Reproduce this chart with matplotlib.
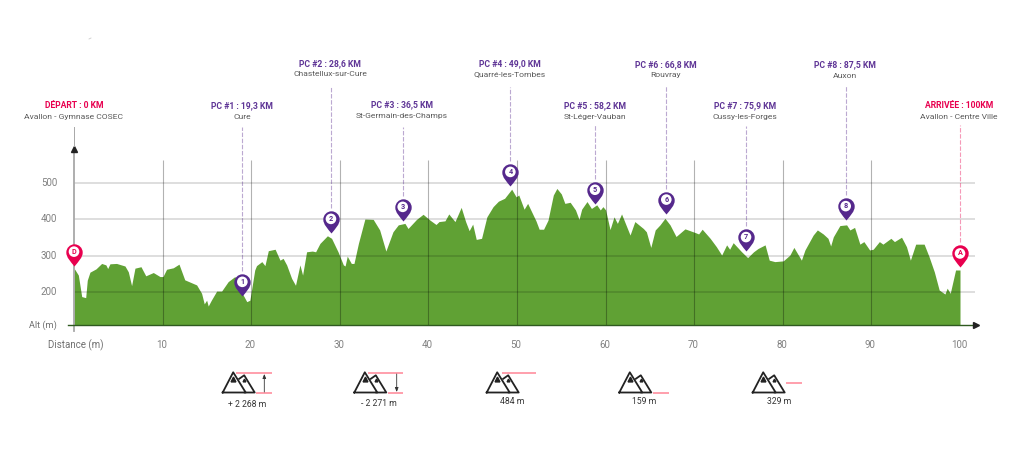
import matplotlib.pyplot as plt
from matplotlib.path import Path

# profile
km = [0.08, 0.49, 0.87, 1.32, 1.5, 1.8, 2.48, 3.12, 3.6, 3.8, 4.06, 4.8, 5.75, 6.13, 6.5, 6.88, 7.56, 8.1, 8.95, 9.7,
      10.04, 10.45, 11.2, 11.85, 12.5, 13.84, 14.4, 14.7, 14.97, 15.15, 15.5, 16.1, 16.66, 17.4, 18.16, 19.1, 19.5, 19.85,
      20.4, 20.6, 21.2, 21.55, 21.93, 22.7, 23.25, 23.6, 24, 24.56, 25, 25.5, 25.8, 26.25, 26.9, 27.27, 27.76,
      28.6, 29.07, 29.8, 30.4, 30.6, 30.84, 31.3, 31.6, 32.1, 32.83, 33.77, 34.5, 35.2, 36, 36.6, 37.35, 37.7,
      38.66, 39.4, 40.18, 40.86, 41.2, 41.87, 42.3, 43, 43.7, 44.2, 44.6, 45, 45.4, 46, 46.6, 47.3, 47.9, 48.6,
      49.4, 49.9, 50.2, 50.8, 51.2, 52.14, 52.5, 53, 53.5, 54.1, 54.5, 55, 55.4, 56, 56.6, 57, 57.3, 57.9, 58.4,
      59, 59.4, 59.7, 60, 60.5, 60.95, 61.33, 61.8, 62.76, 63.3, 64.26, 64.6, 65.1, 65.6, 66.14, 66.7, 67.27,
      67.95, 68.96, 70.1, 70.5, 70.9, 71.8, 72.5, 73.1, 73.66, 74, 74.4, 75.35, 76.03, 76.7, 77.2, 78, 78.47,
      79.1, 80.05, 80.8, 81.25, 82.1, 82.5, 83.43, 83.9, 84.56, 85.1, 85.4, 85.7, 86.44, 87.2, 87.57, 88.1,
      88.7, 89.15, 89.8, 90.2, 90.9, 91.3, 92.2, 92.6, 93.4, 93.96, 94.4, 95, 95.95, 96.5, 97.1, 97.65, 98.3,
      98.55, 98.9, 99.5, 100]
alt = [263, 247, 188, 185, 233, 255, 264, 279, 275, 265, 278, 279, 272, 256, 218, 266, 270, 245, 254, 243,
       243, 263, 267, 277, 234, 220, 197, 168, 178, 162, 178, 203, 203, 229, 243, 192, 174, 178,
       261, 273, 284, 273, 314, 318, 288, 293, 275, 238, 219, 275, 247, 311, 313, 311, 334,
       355, 348, 311, 275, 272, 299, 279, 279, 334, 401, 400, 371, 313, 366, 385, 389, 375,
       400, 414, 398, 386, 394, 396, 415, 394, 433, 394, 369, 387, 345, 348, 407, 435, 450, 458,
       483, 462, 467, 428, 444, 396, 373, 373, 398, 467, 485, 470, 444, 447, 426, 400, 428, 449, 430,
       440, 426, 435, 426, 372, 407, 389, 415, 357, 394, 375, 366, 323, 371, 385, 403, 385,
       353, 374, 364, 360, 373, 348, 325, 302, 330, 318, 336, 311, 295, 311, 320, 330, 288,
       284, 286, 302, 323, 288, 316, 357, 371, 360, 348, 327, 352, 383, 385, 371, 378,
       332, 339, 316, 318, 339, 332, 348, 339, 351, 325, 288, 332, 332, 298, 256, 206, 195,
       211, 197, 261, 261]

y_ticks = [200, 300, 400, 500]
x_ticks = [10, 20, 30, 40, 50, 60, 70, 80, 90, 100]

pin_labels = ['D', '1', '2', '3', '4', '5', '6', '7', '8', 'A']
pin_km = [0, 19.0, 29.0, 37.1, 49.25, 58.8, 66.85, 75.85, 87.1, 100]
pin_alt = [273, 190, 363, 396, 492, 443, 416, 313, 398, 268]
titles = ['DÉPART : 0 KM', 'PC #1 : 19,3 KM', 'PC #2 : 28,6 KM', 'PC #3 : 36,5 KM', 'PC #4 : 49,0 KM',
          'PC #5 : 58,2 KM', 'PC #6 : 66,8 KM', 'PC #7 : 75,9 KM', 'PC #8 : 87,5 KM', 'ARRIVÉE : 100KM']
places = ['Avallon - Gymnase COSEC', 'Cure', 'Chastellux-sur-Cure', 'St-Germain-des-Champs', 'Quarré-les-Tombes',
          'St-Léger-Vauban', 'Rouvray', 'Cussy-les-Forges', 'Auxon', 'Avallon - Centre Ville']

stat_labels = ['+ 2 268 m', '- 2 271 m', '484 m', '159 m', '329 m']

GREEN = '#60a134'
PURPLE = '#55288c'
PINK = '#e8004f'

# px positions of the text blocks and of the top of the leader lines
label_x = [74, 242, 330, 402, 510, 594.5, 665.5, 745, 845, 959]
label_y = [106, 106, 63.5, 105, 63.5, 106, 64.5, 106, 64.5, 106]
line_top = [127, 127, 87, 127, 87, 125, 86, 126, 85, 125]

X0, PX_KM = 74.0, 8.86
Y500, PX_M = 183.0, 0.364


def alt_of(py):
    return 500 - (py - Y500) / PX_M


def km_of(px):
    return (px - X0) / PX_KM


fig = plt.figure(figsize=(10.24, 4.5), dpi=100)
ax = fig.add_axes([0, 0, 1, 1])
ax.set_xlim(km_of(0), km_of(1024))
ax.set_ylim(alt_of(450), alt_of(0))
ax.axis('off')

deco = fig.add_axes([0, 0, 1, 1])
deco.set_xlim(0, 1024)
deco.set_ylim(450, 0)
deco.axis('off')
deco.patch.set_alpha(0)

plt.rcParams['font.family'] = ['Roboto', 'DejaVu Sans']

base = alt_of(324.5)
ax.fill_between([0] + km, [263] + alt, base, color=GREEN, lw=0, zorder=1)

# grid sits on top of the fill so it shows through darker
ax.hlines(y_ticks, 0, km_of(975), color='black', alpha=0.17, lw=1.1, zorder=2)
ax.vlines(x_ticks[:-1], base, alt_of(160), color='black', alpha=0.3, lw=0.8, zorder=2)

ax.plot([0, 0], [alt_of(331), alt_of(150)], color='#a8a8a8', lw=1.3, zorder=3)
ax.plot([0], [alt_of(149)], marker='^', ms=4.5, color='#222222', zorder=3)
ax.plot([km_of(68), km_of(975)], [base, base], color='#2f5a20', lw=1.0, zorder=3)
ax.plot([km_of(976)], [base], marker='>', ms=4.5, color='#222222', zorder=3)

# leader lines
for i in range(len(pin_km)):
    if i == 0:
        # the start pin sits on the y axis, only a short stub shows above it
        ax.plot([0, 0], [alt_of(146), alt_of(line_top[0])], color='#a8a8a8', lw=0.7, zorder=3)
        continue
    col = PINK if i == 9 else PURPLE
    ax.plot([pin_km[i], pin_km[i]], [pin_alt[i] + 25 / PX_M, alt_of(line_top[i])], color=col,
            lw=0.8, ls=(0, (4, 1.5)), alpha=0.4, zorder=3)

# pin shape, tip at the origin
k = 0.5523
r = 8.2
cy = 14.0
pin_path = Path(
    [(0, 0), (-4, 5), (-r, 9), (-r, cy),
     (-r, cy + r * k), (-r * k, cy + r), (0, cy + r),
     (r * k, cy + r), (r, cy + r * k), (r, cy),
     (r, 9), (4, 5), (0, 0), (0, 0)],
    [Path.MOVETO, Path.CURVE4, Path.CURVE4, Path.CURVE4,
     Path.CURVE4, Path.CURVE4, Path.CURVE4,
     Path.CURVE4, Path.CURVE4, Path.CURVE4,
     Path.CURVE4, Path.CURVE4, Path.CURVE4, Path.CLOSEPOLY])

for i in range(len(pin_km)):
    col = PINK if i in (0, 9) else PURPLE
    ax.plot([pin_km[i]], [pin_alt[i]], marker=pin_path, ms=2 * (cy + r) * 72 / 100, color=col,
            mew=0, ls='none', zorder=4, clip_on=False)
    deco.text(X0 + pin_km[i] * PX_KM, Y500 + (500 - pin_alt[i]) * PX_M - cy, pin_labels[i], fontsize=5.2,
              fontweight='bold', color=col, ha='center', va='center', zorder=6,
              bbox=dict(boxstyle='circle,pad=0.18', fc='white', ec='none'))

# tick labels
for v in y_ticks:
    deco.text(57, Y500 + (500 - v) * PX_M, str(v), fontsize=7, color='#808080', ha='right', va='center')
deco.text(57, 325, 'Alt (m)', fontsize=6.6, color='#707070', ha='right', va='center')
deco.text(76, 345, 'Distance (m)', fontsize=7, color='#707070', ha='center', va='center')
for v in x_ticks:
    deco.text(X0 + v * PX_KM - 1, 345, str(v), fontsize=7, color='#808080', ha='center', va='center')

# checkpoint labels
for i in range(len(titles)):
    col = PINK if i in (0, 9) else '#5f3596'
    deco.text(label_x[i], label_y[i], titles[i], fontsize=6.2, fontweight='bold', color=col,
              ha='center', va='center')
    deco.text(label_x[i], label_y[i] + 11, places[i], fontsize=6.1, color='#5a5a5a', ha='center', va='center')


def mountains(x, top=372.3, bottom=392.5):
    deco.plot([x, x + 10.5, x + 23, x], [bottom, top, bottom, bottom], color='#222222', lw=1.3,
              solid_joinstyle='round')
    deco.plot([x + 16.5, x + 21.5, x + 32, x + 22], [top + 6.5, top + 3, bottom, bottom], color='#222222',
              lw=1.3, solid_joinstyle='round')
    deco.plot([x + 10.5], [top + 7], marker='^', ms=3.5, color='#222222')
    deco.plot([x + 21.5], [top + 8], marker='^', ms=2, color='#222222')


RED = '#ff8596'
for x in [222.7, 354.3, 486.7, 619.3, 752.7]:
    mountains(x)

deco.hlines(372.7, 236, 271.7, color=RED, lw=1.1)
deco.hlines(393, 256, 271.7, color=RED, lw=1.1)
deco.annotate('', xy=(264.3, 374), xytext=(264.3, 392), arrowprops=dict(arrowstyle='-|>,head_width=0.1,head_length=0.25',
                                                                        color='#333333', lw=0.6, shrinkA=0, shrinkB=0))
deco.hlines(372.7, 368, 403.3, color=RED, lw=1.1)
deco.hlines(393, 388, 403.3, color=RED, lw=1.1)
deco.annotate('', xy=(396.7, 392), xytext=(396.7, 374), arrowprops=dict(arrowstyle='-|>,head_width=0.1,head_length=0.25',
                                                                        color='#333333', lw=0.6, shrinkA=0, shrinkB=0))
deco.hlines(372.7, 501.7, 535.7, color=RED, lw=1.1)
deco.hlines(393, 653, 669, color=RED, lw=1.1)
deco.hlines(382.7, 785.7, 801.7, color=RED, lw=1.1)

stat_x = [247.3, 379.3, 512.3, 644.3, 779]
stat_y = [404.3, 404, 402, 402, 402]
for i in range(len(stat_labels)):
    deco.text(stat_x[i], stat_y[i], stat_labels[i], fontsize=6.2, color='#333333', ha='center', va='center')

# faint speck top left of the original
deco.plot([89, 91], [39, 38], color='#cccccc', lw=0.6)

fig.savefig('out.png', dpi=100)
